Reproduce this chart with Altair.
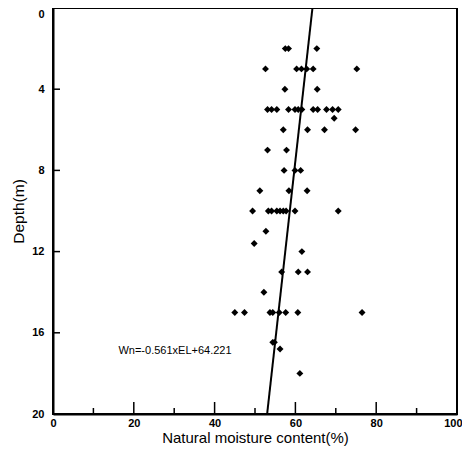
import altair as alt
import pandas as pd

# Natural moisture content (%) vs depth (m)
depths = (
    [2, 2, 2]
    + [3] * 6
    + [4, 4]
    + [5] * 12
    + [5.43]
    + [6] * 4
    + [7, 7]
    + [8] * 3
    + [9] * 3
    + [10] * 9
    + [11, 11.6, 12]
    + [13] * 3
    + [14]
    + [15] * 8
    + [16.47, 16.47, 16.8, 18]
)
moisture = (
    [57.5, 58.3, 65.3]
    + [52.6, 60.3, 61.5, 62.8, 64.4, 75.2]
    + [57.4, 65.4]
    + [53.1, 54.1, 55.4, 58.3, 59.9, 60.7, 61.6, 64.4, 65.5, 67.7, 69.2, 70.6]
    + [69.6]
    + [57.0, 63.0, 67.2, 74.9]
    + [53.1, 57.8]
    + [57.2, 59.9, 61.3]
    + [51.2, 58.4, 62.9]
    + [49.4, 53.3, 54.1, 55.4, 56.2, 57.0, 57.7, 59.9, 70.6]
    + [52.7, 49.8, 61.6]
    + [56.6, 60.7, 63.0]
    + [52.2]
    + [45.0, 47.4, 53.7, 54.4, 56.0, 57.6, 60.6, 76.5]
    + [54.4, 54.8, 56.2, 61.1]
)

slope = -0.561
intercept = 64.221
line_depths = [0, 20]
line_moisture = [intercept + slope * d for d in line_depths]

equation_text = ["Wn=-0.561xEL+64.221"]
equation_x = [16.2]
equation_y = [16.9]

x_major = [0, 20, 40, 60, 80, 100]
x_major_inner = [20, 40, 60, 80]
x_minor = [10, 30, 50, 70, 90]
y_ticks = [0, 4, 8, 12, 16, 20]
y_ticks_inner = [4, 8, 12, 16]

W, H = 404, 406

pts = pd.DataFrame({"m": moisture, "d": depths})
ln = pd.DataFrame({"m": line_moisture, "d": line_depths})
txt = pd.DataFrame({"m": equation_x, "d": equation_y, "t": equation_text})
xmaj = pd.DataFrame({"m": x_major_inner})
xmin = pd.DataFrame({"m": x_minor})
ytk = pd.DataFrame({"d": y_ticks_inner})

xscale = alt.Scale(domain=[0, 100], nice=False)
yscale = alt.Scale(domain=[0, 20], reverse=True, nice=False)

y_axis = alt.Axis(
    values=y_ticks, title="Depth(m)", ticks=False, labelPadding=9,
    labelFlush=False,
    labelBaseline={"condition": {"test": "datum.value == 0", "value": "top"}, "value": "middle"},
    grid=False, titleFontWeight="normal", titleFontSize=15.5, titlePadding=5,
    orient="left",
)
x_axis = alt.Axis(
    values=x_major, title="Natural moisture content(%)", ticks=False,
    labelPadding=3, labelFlush=False, grid=False, titleFontWeight="normal",
    titleFontSize=15, titlePadding=2, orient="bottom",
    labelAlign={"condition": {"test": "datum.value == 100", "value": "right"}, "value": "center"},
    labelOffset={"condition": {"test": "datum.value == 100", "value": 5}, "value": 0},
)

X = alt.X("m:Q", scale=xscale, axis=x_axis)
Y = alt.Y("d:Q", scale=yscale, axis=y_axis)

points = alt.Chart(pts).mark_point(
    shape="diamond", filled=True, color="black", size=48, opacity=1
).encode(x=X, y=Y)

line = alt.Chart(ln).mark_line(color="black", strokeWidth=2).encode(x=X, y=Y)

label = alt.Chart(txt).mark_text(
    align="left", baseline="middle", fontSize=11, font="Liberation Sans", color="black"
).encode(x=X, y=Y, text="t:N")

# inward-pointing ticks
major_ticks = alt.Chart(xmaj).mark_rule(color="black", strokeWidth=1.5).encode(
    x=X, y=alt.value(H), y2=alt.value(H - 12)
)
minor_ticks = alt.Chart(xmin).mark_rule(color="black", strokeWidth=1.5).encode(
    x=X, y=alt.value(H), y2=alt.value(H - 6)
)
left_ticks = alt.Chart(ytk).mark_rule(color="black", strokeWidth=1.5).encode(
    y=Y, x=alt.value(0), x2=alt.value(7)
)

chart = (
    alt.layer(major_ticks, minor_ticks, left_ticks, line, points, label)
    .properties(
        width=W,
        height=H,
        autosize=alt.AutoSizeParams(type="none"),
        padding={"left": 45, "top": 0, "right": 5, "bottom": 32},
    )
    .configure_view(stroke="black", strokeWidth=2)
    .configure_axis(
        domainColor="black", domainWidth=2,
        labelColor="black", titleColor="black", labelFont="Liberation Sans",
        titleFont="Liberation Sans", labelFontWeight="bold", labelFontSize=11,
    )
)

chart.save("out.html", embed_options={"renderer": "svg", "actions": False})
